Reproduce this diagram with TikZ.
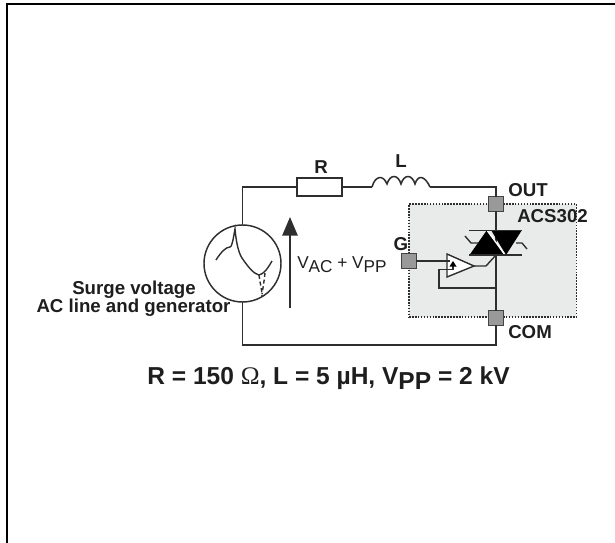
\documentclass[tikz,border=0pt]{standalone}
\usepackage{fontspec}
\setmainfont{Liberation Sans}
\newfontfamily\serifom{Liberation Serif}
\usetikzlibrary{arrows.meta,calc}
\definecolor{ink}{HTML}{1E1E1E}
\definecolor{wirec}{HTML}{2E2E2E}
\definecolor{padc}{HTML}{999999}
\definecolor{boxc}{HTML}{E9EBEB}
\tikzset{
 wire/.style={draw=wirec,line width=1.3pt,line join=miter},
 pad/.style={draw=wirec!90,fill=padc,line width=1.3pt,minimum size=11.2pt,inner sep=0pt,outer sep=0pt},
 lbl/.style={font=\bfseries\fontsize{14}{16}\selectfont,text=ink,inner sep=0pt},
 big/.style={font=\bfseries\fontsize{18.4}{21}\selectfont,text=ink,inner sep=0pt},
 volt/.style={font=\fontsize{12.9}{15}\selectfont,text=ink,inner sep=0pt},
 thinw/.style={draw=wirec,line width=1.05pt},
 res/.style={draw=wirec,fill=white,line width=1.3pt,minimum width=33.75pt,minimum height=13.5pt,inner sep=0pt,outer sep=0pt},
 gencircle/.style={circle,draw=wirec,line width=1.1pt,minimum size=57.75pt,inner sep=0pt,outer sep=0pt},
}
\begin{document}
\begin{tikzpicture}[x=0.75pt,y=-0.75pt]
\useasboundingbox (0,0) rectangle (615,543);
% frame
\draw[black,line width=1.7pt] (7.2,543) -- (7.2,4.2) -- (615,4.2);
% shaded area
\node[draw=wirec,densely dotted,fill=boxc,line width=1.2pt,minimum width=125.5pt,minimum height=84.75pt,inner sep=0pt,outer sep=0pt] (chip) at (492.7,260.5) {};
% nodes
\node[res] (r) at (319.5,187) {};
\coordinate (la) at (372,187);
\coordinate (lb) at (430,187);
\coordinate (tl) at (242.5,187);
\coordinate (tr) at (496,187);
\coordinate (bl) at (242.5,345);
\coordinate (br) at (496,345);
\node[gencircle] (gen) at (242.5,263.5) {};
\node[pad] (out) at (496,204) {};
\node[pad] (com) at (496,318) {};
\node[pad] (g) at (409,261) {};
% wires
\draw[wire] (gen.north) -- (tl) -- (r.west);
\draw[wire] (r.east) -- (la);
\draw[wire] (lb) -- (tr) -- (out.north);
\draw[wire] (com.south) -- (br) -- (bl) -- (gen.south);
\draw[wire] (out.south) -- (com.north);
% inductor
\draw[draw=wirec,line width=1.15pt] (la)
  .. controls (375,176) and (383,174) .. (387,184)
  .. controls (390,174) and (398,174) .. (401,184)
  .. controls (404,174) and (412,174) .. (415,184)
  .. controls (418,174) and (425,176) .. (lb);
% triac
\coordinate (tb) at (496,255);
\fill[black] (487,230) -- (469.5,255) -- (504,255) -- cycle;
\fill[black] (491,230) -- (522,230) -- (506,255) -- cycle;
\draw[white,line width=1pt] (487.5,231) -- (504.5,254);
\draw[wire,line width=1.15pt] (469,230.5) -- (522,230.5);
\draw[wire,line width=1.15pt] (469,255) -- (522,255);
\draw[thinw] (465,236) -- (471,243) -- (478,243);
\draw[thinw] (516,243) -- (522,243) -- (527,249);
% comparator
\coordinate (cmpout) at (474,266);
\draw[thinw,fill=white] (447,254) -- (cmpout) -- (447,277) -- cycle;
\draw[thinw] (cmpout) -- (486,266) -- (tb);
\draw[thinw] (g.east) -- (447,261) -- (450,261);
\draw[thinw] (496,288) -- (439,288) -- (439,269.5) -- (453,269.5) -- (453,265);
\fill[black] (453,261) -- (449.5,266.5) -- (456.5,266.5) -- cycle;
% waveform
\draw[thinw] (216,260) .. controls (221,252) and (226,247) .. (230,247)
  .. controls (232,247) and (233,240) .. (235,229)
  .. controls (236,240) and (238,252) .. (242,258)
  .. controls (248,267) and (254,274) .. (259,275)
  .. controls (264,274) and (268,268) .. (272,261);
\draw[thinw,densely dashed] (259,275) .. controls (260,283) and (262,290) .. (262,296);
\draw[thinw,densely dashed] (265,273) .. controls (264,282) and (263,288) .. (262,294);
% voltage arrow
\draw[draw=wirec,line width=1.3pt,-{Triangle[length=14pt,width=11.5pt]}] (290,308) -- (290,217);
% labels
\node[lbl] (tR) at (321,167) {R};
\node[lbl] (tL) at (401,161) {L};
\node[lbl,anchor=west] (tOUT) at (508,190) {OUT};
\node[lbl,anchor=west] (tACS) at (517,216) {ACS302};
\node[lbl] (tG) at (401,244) {G};
\node[lbl,anchor=west] (tCOM) at (508,332) {COM};
\node[volt,anchor=west] (tV) at (297,264.5) {V\raisebox{-0.4ex}{AC} + V\raisebox{-0.4ex}{PP}};
\node[lbl] (tS) at (134,290) {Surge voltage};
\node[lbl] (tA) at (133.5,308) {AC line and generator};
\node[big] (tB) at (328.5,378) {R = 150 {\serifom\mdseries\fontsize{19}{21}\selectfont Ω}, L = 5 µH, V\raisebox{-0.4ex}{PP} = 2 kV};
\end{tikzpicture}
\end{document}
